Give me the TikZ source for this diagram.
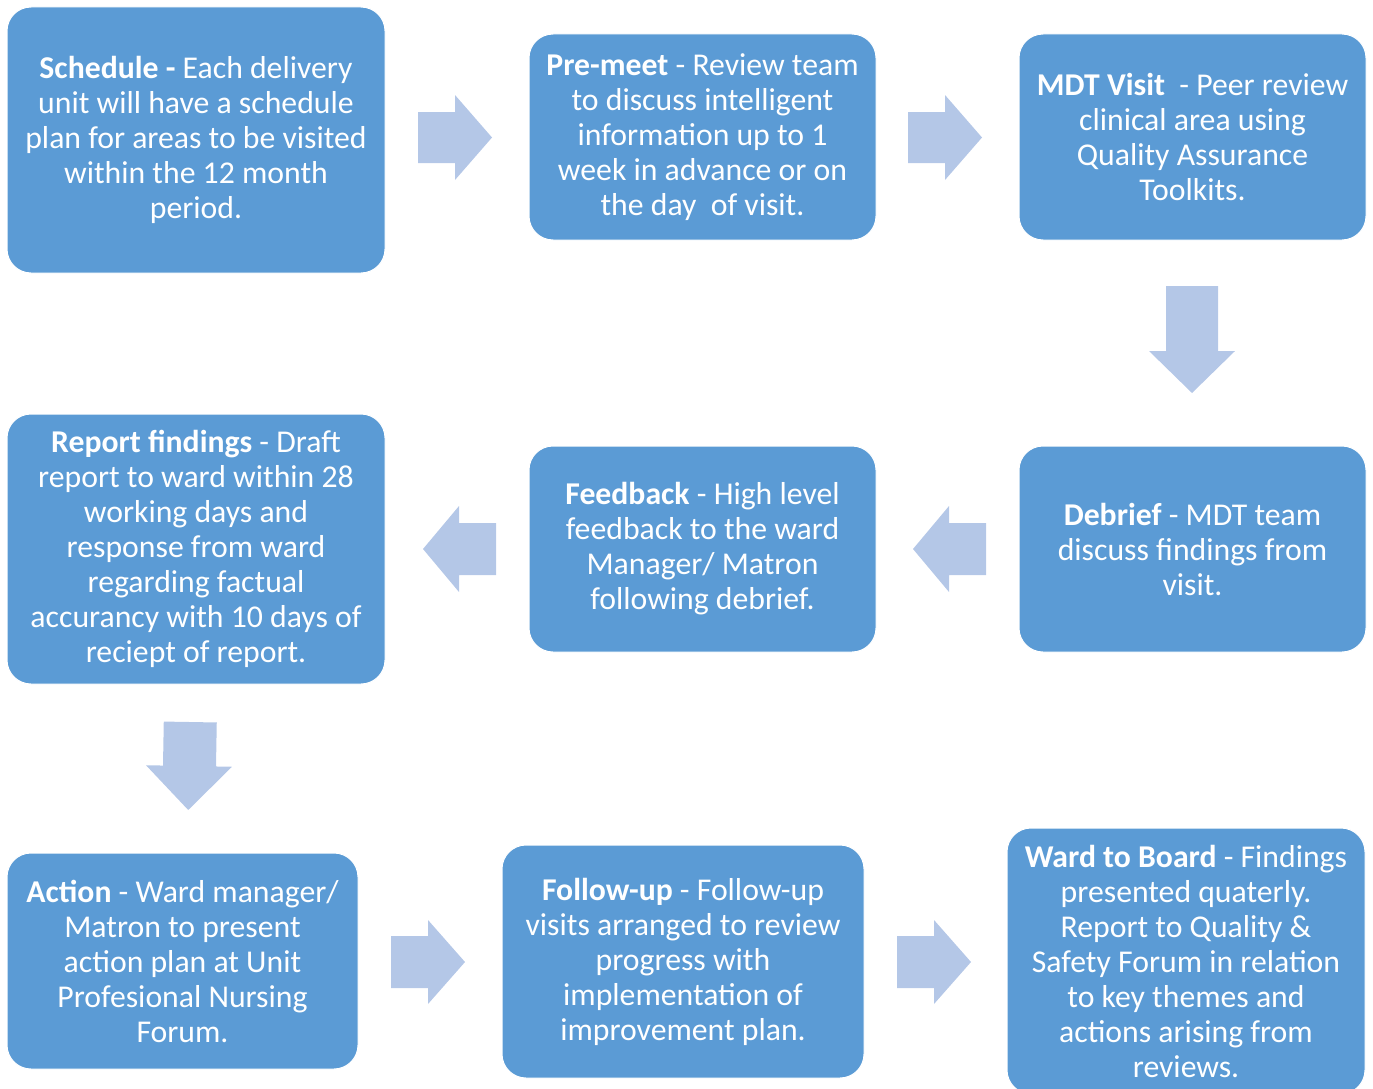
\documentclass[tikz,border=0pt]{standalone}
\usepackage{fontspec}
\setmainfont{Carlito}
\definecolor{boxblue}{HTML}{5B9BD5}
\definecolor{arrowblue}{HTML}{B4C7E7}
\begin{document}
\begin{tikzpicture}[x=0.75pt,y=-0.75pt,
  box/.style={rectangle, rounded corners=18pt, fill=boxblue, draw=white, line width=0.75pt,
    text=white, align=center, inner sep=0pt,
    font=\fontsize{23.8pt}{26.25pt}\selectfont},
  blockarrow/.style={fill=arrowblue, draw=none}]
\useasboundingbox (0,0) rectangle (1373,1088);
\begin{scope}
\clip (0,0) rectangle (1373,1088);
% boxes
\node[box, minimum width=283.5pt, minimum height=199.5pt] (schedule) at (196,140)
  {\textbf{Schedule -} Each delivery\\unit will have a schedule\\plan for areas to be visited\\within the 12 month\\period.};
\node[box, minimum width=260.25pt, minimum height=154.5pt] (premeet) at (702.5,137)
  {\textbf{Pre-meet} - Review team\\to discuss intelligent\\information up to 1\\week in advance or on\\the day\ \ of visit.};
\node[box, minimum width=260.25pt, minimum height=154.5pt] (mdt) at (1192.5,137)
  {\textbf{MDT Visit}\ \ - Peer review\\clinical area using\\Quality Assurance\\Toolkits.};
\node[box, minimum width=283.5pt, minimum height=202.5pt] (report) at (196,549)
  {\textbf{Report findings} - Draft\\report to ward within 28\\working days and\\response from ward\\regarding factual\\accurancy with 10 days of\\reciept of report.};
\node[box, minimum width=260.25pt, minimum height=154.5pt] (feedback) at (702.5,549)
  {\textbf{Feedback} - High level\\feedback to the ward\\Manager/ Matron\\following debrief.};
\node[box, minimum width=260.25pt, minimum height=154.5pt] (debrief) at (1192.5,549)
  {\textbf{Debrief} - MDT team\\discuss findings from\\visit.};
\node[box, minimum width=263.25pt, minimum height=162pt] (action) at (182.5,961)
  {\textbf{Action} - Ward manager/\\Matron to present\\action plan at Unit\\Profesional Nursing\\Forum.};
\node[box, minimum width=271.5pt, minimum height=174.75pt] (followup) at (683,961.5)
  {\textbf{Follow-up} - Follow-up\\visits arranged to review\\progress with\\implementation of\\improvement plan.};
\node[box, minimum width=268.5pt, minimum height=199.5pt] (wardboard) at (1186,961)
  {\textbf{Ward to Board} - Findings\\presented quaterly.\\Report to Quality \&\\Safety Forum in relation\\to key themes and\\actions arising from\\reviews.};
% right arrows
\fill[blockarrow] (418,112) -- (455,112) -- (455,95) -- (492,137.5) -- (455,180) -- (455,163) -- (418,163) -- cycle;
\fill[blockarrow] (908,112) -- (945,112) -- (945,95) -- (982,137.5) -- (945,180) -- (945,163) -- (908,163) -- cycle;
\fill[blockarrow] (391,936) -- (428,936) -- (428,920) -- (465,962) -- (428,1004) -- (428,988) -- (391,988) -- cycle;
\fill[blockarrow] (897,936) -- (934,936) -- (934,920) -- (971,962) -- (934,1004) -- (934,988) -- (897,988) -- cycle;
% left arrows
\fill[blockarrow] (986,523) -- (949,523) -- (949,506) -- (913,549) -- (949,592) -- (949,575) -- (986,575) -- cycle;
\fill[blockarrow] (496,523) -- (459,523) -- (459,506) -- (423,549) -- (459,592) -- (459,575) -- (496,575) -- cycle;
% down arrows
\fill[blockarrow] (1166,286) -- (1218,286) -- (1218,351) -- (1235,351) -- (1192,393) -- (1149,351) -- (1166,351) -- cycle;
\begin{scope}[rotate around={-1:(189,766)}]
\fill[blockarrow] (163,722) -- (216,722) -- (216,766) -- (232,766) -- (189,810) -- (146,766) -- (163,766) -- cycle;
\end{scope}
\end{scope}
\end{tikzpicture}
\end{document}
